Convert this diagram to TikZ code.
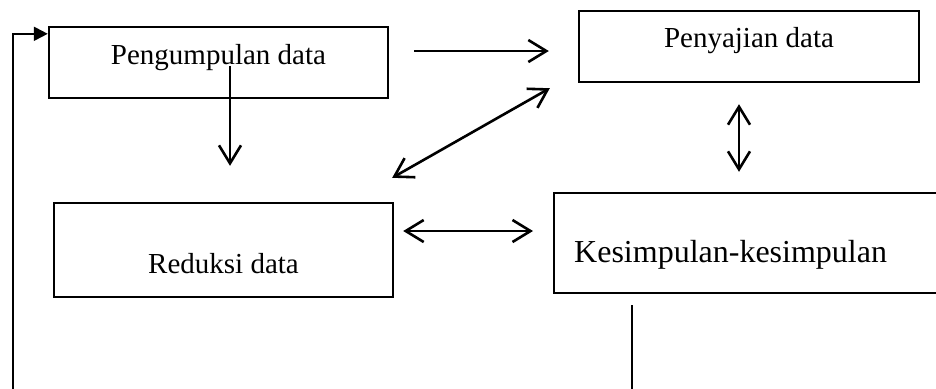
\documentclass[tikz,border=0pt]{standalone}
\usepackage{fontspec}
\setmainfont{Liberation Serif}
\usetikzlibrary{positioning}
\usetikzlibrary{arrows.meta}
\usetikzlibrary{calc}

\begin{document}
\begin{tikzpicture}[x=0.5pt,y=-0.5pt]
	\useasboundingbox (0,0) rectangle (936,388);
	\clip (0,0) rectangle (936,388);

	\begin{scope}[every node/.style={draw,rectangle,line width=1.2pt,inner sep=0pt,font=\fontsize{14.5}{17}\selectfont}]
	    \node (P) at (218.5,62.5) [minimum width=169.5pt,text height=18.5pt,text depth=17pt] {Pengumpulan data};
	    \node (S) at (749,46.5) [minimum width=170pt,text height=18pt,text depth=17.5pt] {Penyajian data};
	    \node (R) at (223.5,250) [minimum width=169.5pt,text height=35pt,text depth=12pt] {Reduksi data};
	    \node (K) at (553,243) [anchor=west,text width=190pt,align=left,inner xsep=10pt,
	        text height=34.5pt,text depth=15.5pt,font=\fontsize{16}{19}\selectfont] {Kesimpulan-kesimpulan};
	\end{scope}

	\begin{scope}[>={Straight Barb[length=9pt,width=11pt]},
	              every edge/.style={draw=black,line width=1.3pt}]
    	\path [->] ([xshift=3.25pt,yshift=68pt]R.north) edge ([xshift=3.25pt,yshift=18pt]R.north);
    	\path [->] ([xshift=12.5pt,yshift=5.75pt]P.east) edge ([xshift=-14.5pt,yshift=-2.25pt]S.west);
    	\path [<->] ([xshift=-1pt,yshift=12pt]R.north east) edge ([xshift=-14pt,yshift=-2.5pt]S.south west);
    	\path [<->] ([xshift=-5pt,yshift=-10.5pt]S.south) edge ([xshift=93pt,yshift=10pt]K.north west);
    	\path [<->] ([xshift=4.5pt,yshift=9.5pt]R.east) edge ([xshift=-10pt,yshift=6pt]K.west);
	\end{scope}

	\coordinate (fbcorner) at (13,400);
	\draw [line width=1pt,-{Triangle[length=7pt,width=7pt]}] ([xshift=39.5pt,yshift=-5.5pt]K.south west) |- (fbcorner) |- ([yshift=-4pt]P.north west);
\end{tikzpicture}
\end{document}
